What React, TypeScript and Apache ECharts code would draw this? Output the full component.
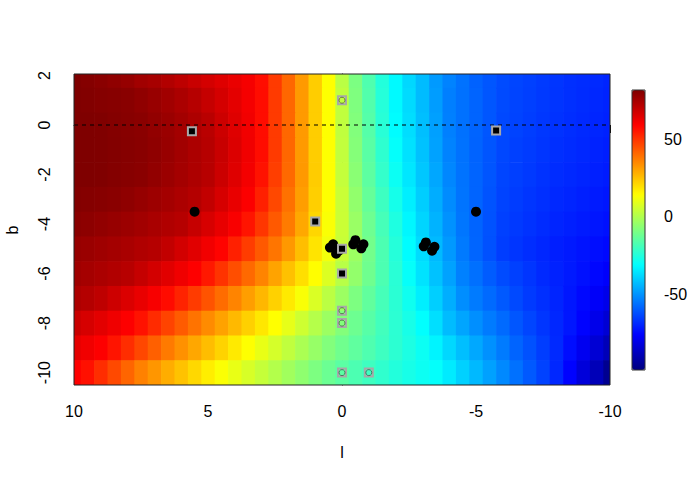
import React, { useEffect, useRef } from "react";
import * as echarts from "echarts";

// longitude columns (l) and latitude rows (b) of the colour field
const lGrid = [10, 9.5, 9, 8.5, 8, 7.5, 7, 6.5, 6, 5.5, 5, 4.5, 4, 3.5, 3, 2.5, 2, 1.5, 1, 0.5, 0, -0.5, -1, -1.5, -2, -2.5, -3, -3.5, -4, -4.5, -5, -5.5, -6, -6.5, -7, -7.5, -8, -8.5, -9, -9.5, -10];
const bRows = [2, 1, 0, -1, -2, -3, -4, -5, -6, -7, -8, -9, -10];

// field values, one array per row of b
const rowB2 = [82, 81, 80, 79, 78, 76, 75, 73, 71, 69, 67, 65, 63, 61, 57, 49, 41, 32, 23, 14, 2, -9, -17, -25, -32, -38, -43, -49, -53, -56, -59, -61, -63, -64, -65, -66, -67, -68, -68.5, -69, -70];
const rowB1 = [82, 81.5, 81, 80.6, 80.2, 79, 77.5, 76, 74.2, 72.3, 69.7, 66.9, 64.1, 61.2, 57.3, 49, 41, 32, 23, 14, 3, -8.5, -16.5, -24.6, -32, -37.5, -43, -48.4, -53.8, -56.3, -58.6, -61, -63.2, -64.2, -65.2, -66.2, -67.2, -68, -68.7, -69.5, -70.2];
const rowB0 = [82, 82, 81.8, 81.2, 80.6, 80.1, 78.7, 77.2, 75.6, 73.8, 71.8, 68.4, 65.1, 61.7, 57.3, 49, 41, 32, 23, 14, 3, -8, -16, -24, -31.5, -37, -42.5, -48, -53.5, -56.2, -58.6, -61.1, -63.5, -64.5, -65.5, -66.5, -67.5, -68.3, -69, -69.8, -70.5];
const rowBm1 = [82, 82, 81.9, 81.3, 80.8, 80.2, 79.1, 77.5, 75.8, 74.1, 72.3, 69.1, 65.5, 61.9, 57.3, 49, 41, 32, 23, 14, 3.3, -7.4, -15.3, -22.9, -30.5, -36.3, -41.9, -47.5, -53.1, -56.1, -58.7, -61.2, -63.8, -64.9, -65.9, -67, -68, -68.8, -69.5, -70.3, -71];
const rowBm2 = [82, 82, 81.8, 81.2, 80.6, 80.1, 78.6, 77, 75.4, 73.8, 72.1, 68.6, 65, 61.3, 56.2, 48.4, 40.6, 32.1, 23.1, 14, 3.7, -6.6, -14.5, -21.9, -29.2, -35.3, -41, -46.6, -52.3, -55.9, -58.6, -61.3, -64, -65.1, -66.3, -67.4, -68.5, -69.3, -70, -70.8, -71.5];
const rowBm3 = [81.5, 81, 80.6, 80.1, 79.1, 77.9, 76.7, 75.5, 74.1, 72.6, 70.1, 66.7, 63.3, 59.9, 53.7, 46.5, 39.3, 31.2, 22.6, 14, 4.5, -5.1, -13.1, -20.2, -27.4, -33.9, -39.8, -45.6, -51.4, -55.7, -58.6, -61.6, -64.5, -65.7, -66.9, -68, -69.2, -70, -70.9, -71.7, -72.5];
const rowBm4 = [80.2, 79.5, 78.6, 77.7, 76.8, 75.8, 74.6, 73.4, 72.2, 69.5, 66.5, 63.5, 60.5, 55.9, 49.8, 43.6, 37.5, 29.5, 21.3, 13.2, 4.7, -3.8, -11.6, -18.7, -25.8, -32.5, -38.5, -44.5, -50.4, -55.3, -58.5, -61.8, -65, -66.3, -67.5, -68.8, -70, -70.9, -71.8, -72.6, -73.5];
const rowBm5 = [78, 77.2, 76.4, 75.5, 74.5, 73.4, 72.4, 70.2, 67.4, 64.6, 61.7, 58.8, 53.7, 48.7, 43.6, 38.5, 32.3, 25.6, 18.9, 12, 4.4, -3.3, -10.7, -17.6, -24.5, -31.4, -37.3, -43.3, -49.2, -54.7, -58.3, -61.9, -65.5, -66.9, -68.3, -69.6, -71, -72, -73, -74, -75];
const rowBm6 = [76.3, 75.2, 74.2, 73.1, 72.1, 69.7, 67.1, 64.6, 62, 59.5, 55.1, 50.3, 45.5, 40.7, 35.8, 30.4, 25.1, 19.7, 14.3, 8, 1.5, -4.9, -11.3, -17.6, -23.9, -30.2, -36.1, -41.9, -47.6, -53.4, -56.5, -60, -63, -65, -67, -69, -70.5, -72, -73.5, -75.3, -77];
const rowBm7 = [74, 72.7, 70.8, 68.3, 65.7, 63.2, 60.6, 57.4, 53.1, 48.8, 44.5, 40.2, 35.8, 31.3, 26.8, 22.3, 17.8, 13.1, 7.6, 2.1, -3.4, -8.9, -13.8, -18.7, -23.6, -28.5, -33.9, -39.6, -45.4, -51.1, -54.5, -57.5, -60.5, -63.3, -66, -68, -70, -72.5, -75, -77.5, -80];
const rowBm8 = [69, 66.7, 64.4, 62.1, 59.8, 56.2, 51.8, 47.5, 43.2, 38.9, 34.7, 30.6, 26.5, 22.4, 18.3, 14.2, 9.9, 5.4, 1, -3.4, -7.8, -11.7, -15.6, -19.4, -23.3, -27.1, -30.9, -36.7, -43, -47, -51, -54.5, -57.5, -61, -64, -67, -69.5, -72.5, -76, -80, -84];
const rowBm9 = [64, 61.8, 59.7, 55.8, 51.3, 46.7, 42.2, 37.6, 33.6, 29.7, 25.8, 21.9, 17.9, 14, 10.3, 6.7, 3, -0.7, -4.3, -8, -11.1, -14.1, -17.1, -20.1, -23.2, -26.2, -29.2, -33, -38, -42.5, -46.5, -50.5, -54.5, -58.5, -62, -65.5, -69, -74, -79, -84, -89];
const rowBm10 = [59.5, 56.5, 51.4, 46.4, 41.3, 36.4, 32.6, 28.7, 24.9, 21.1, 17.2, 13.5, 10.3, 7.1, 3.9, 0.7, -2.5, -5.7, -8.9, -12, -15, -17.5, -20, -22.5, -25, -27, -29, -30.5, -34.6, -39.2, -43.5, -47.8, -52, -56.3, -60.5, -64.7, -69.5, -76, -83, -89, -96];
const fieldRows = [rowB2, rowB1, rowB0, rowBm1, rowBm2, rowBm3, rowBm4, rowBm5, rowBm6, rowBm7, rowBm8, rowBm9, rowBm10];

// markers [l, b]
const filledSquares = [[5.6, -0.25], [-5.75, -0.22], [1.0, -3.9], [0, -5.0], [0, -6.0]];
const openSquares = [[0, 1.0], [0, -7.5], [0, -8.0], [0, -10.0], [-1.0, -10.0]];
const blackDots = [
  [5.5, -3.5], [-5.0, -3.5],
  [0.22, -5.2], [0.1, -5.06], [0.45, -4.95], [0.33, -4.82],
  [-0.72, -4.98], [-0.8, -4.82], [-0.42, -4.82], [-0.5, -4.65],
  [-3.36, -5.08], [-3.45, -4.92], [-3.05, -4.9], [-3.13, -4.74],
];
const zeroLine = [[10, 0], [-10, 0]];

// axes
const xTickStep = 5;
const yTicks = [-10, -8, -6, -4, -2, 0, 2];
const keyTicks = [-50, 0, 50];
const zMin = -99;
const zMax = 82;
const jet = ["#00007F", "#0000FF", "#007FFF", "#00FFFF", "#7FFF7F", "#FFFF00", "#FF7F00", "#FF0000", "#7F0000"];

const FONT = "'Liberation Sans', Arial, Helvetica, sans-serif";

export default function App() {
  const ref = useRef<HTMLDivElement>(null);

  useEffect(() => {
    if (!ref.current) return;
    const chart = echarts.init(ref.current, undefined, { renderer: "svg" });

    const fieldData: number[][] = [];
    bRows.forEach((b, i) => {
      lGrid.forEach((l, j) => {
        fieldData.push([l, b, fieldRows[i][j]]);
      });
    });

    const option: any = {
      animation: false,
      backgroundColor: "#fff",
      textStyle: { fontFamily: FONT },
      grid: [
        { left: 74, top: 74, width: 536, height: 311 },
        { left: 632, top: 90, width: 13, height: 280 },
      ],
      xAxis: [
        {
          type: "value",
          gridIndex: 0,
          min: -10,
          max: 10,
          inverse: true,
          interval: xTickStep,
          axisLine: { show: true, lineStyle: { color: "#000", width: 1 } },
          axisTick: { show: true, length: 8, lineStyle: { color: "#000" } },
          axisLabel: { fontSize: 16, color: "#000", fontFamily: FONT, margin: 18, showMinLabel: true, showMaxLabel: true },
          splitLine: { show: false },
        },
        { type: "value", gridIndex: 1, min: 0, max: 1, show: false },
      ],
      yAxis: [
        {
          type: "value",
          gridIndex: 0,
          min: -10.5,
          max: 2.06,
          axisLine: { show: true, lineStyle: { color: "#000", width: 1 } },
          axisTick: { show: true, length: 8, customValues: yTicks, lineStyle: { color: "#000" } },
          axisLabel: { fontSize: 16, color: "#000", fontFamily: FONT, rotate: 90, margin: 22, customValues: yTicks },
          splitLine: { show: false },
        },
        {
          type: "value",
          gridIndex: 1,
          min: zMin,
          max: zMax,
          position: "right",
          axisLine: { show: false },
          axisTick: { show: true, length: 8, customValues: keyTicks, lineStyle: { color: "#333" } },
          axisLabel: { fontSize: 16, color: "#000", fontFamily: FONT, margin: 19, customValues: keyTicks },
          splitLine: { show: false },
        },
      ],
      visualMap: {
        type: "continuous",
        min: zMin,
        max: zMax,
        seriesIndex: 0,
        dimension: 2,
        calculable: false,
        hoverLink: false,
        orient: "vertical",
        left: 632,
        top: 90,
        itemWidth: 13,
        itemHeight: 280,
        padding: 0,
        inRange: { color: jet },
      },
      series: [
        {
          type: "custom",
          xAxisIndex: 0,
          yAxisIndex: 0,
          silent: true,
          dimensions: ["l", "b", "v"],
          encode: { x: "l", y: "b" },
          data: fieldData,
          z: 1,
          renderItem: (params: any, api: any) => {
            const l = api.value(0);
            const b = api.value(1);
            const p1 = api.coord([l + 0.25, b + 0.5]);
            const p2 = api.coord([l - 0.25, b - 0.5]);
            const x0 = Math.min(p1[0], p2[0]);
            const x1 = Math.max(p1[0], p2[0]);
            const y0 = Math.min(p1[1], p2[1]);
            const y1 = Math.max(p1[1], p2[1]);
            const cs = params.coordSys;
            const shape = echarts.graphic.clipRectByRect(
              { x: x0, y: y0, width: x1 - x0 + 0.7, height: y1 - y0 + 0.7 },
              { x: cs.x, y: cs.y, width: cs.width, height: cs.height }
            );
            if (!shape) return null;
            return { type: "rect", shape, style: { fill: api.visual("color"), stroke: null } };
          },
        },
        {
          type: "line",
          xAxisIndex: 0,
          yAxisIndex: 0,
          data: zeroLine,
          symbol: "none",
          silent: true,
          z: 3,
          lineStyle: { color: "#000", width: 1, type: [4, 4], cap: "butt" },
        },
        {
          type: "scatter",
          xAxisIndex: 0,
          yAxisIndex: 0,
          data: blackDots,
          symbol: "circle",
          symbolSize: 10,
          silent: true,
          z: 4,
          itemStyle: { color: "#000", opacity: 1 },
        },
        {
          type: "scatter",
          xAxisIndex: 0,
          yAxisIndex: 0,
          data: filledSquares,
          symbol: "rect",
          symbolSize: 8,
          silent: true,
          z: 5,
          itemStyle: { color: "#000", borderColor: "#a8a8a8", borderWidth: 2, opacity: 1 },
        },
        {
          type: "scatter",
          xAxisIndex: 0,
          yAxisIndex: 0,
          data: openSquares,
          symbol: "rect",
          symbolSize: 8,
          silent: true,
          z: 5,
          itemStyle: { color: "rgba(0,0,0,0)", borderColor: "#a8a8a8", borderWidth: 2, opacity: 1 },
        },
        {
          type: "scatter",
          xAxisIndex: 0,
          yAxisIndex: 0,
          data: openSquares,
          symbol: "circle",
          symbolSize: 6,
          silent: true,
          z: 6,
          itemStyle: { color: "rgba(0,0,0,0)", borderColor: "#333", borderWidth: 0.6, opacity: 1 },
        },
      ],
      graphic: [
        {
          type: "rect",
          z: 100,
          silent: true,
          shape: { x: 632, y: 90, width: 13, height: 280 },
          style: { fill: "none", stroke: "#333", lineWidth: 1 },
        },
        {
          type: "rect",
          z: 100,
          silent: true,
          shape: { x: 74, y: 74, width: 536, height: 311 },
          style: { fill: "none", stroke: "#222", lineWidth: 1 },
        },
        {
          type: "text",
          x: 342,
          y: 452,
          silent: true,
          style: { text: "l", fontSize: 16, fontFamily: FONT, fill: "#000", textAlign: "center", textVerticalAlign: "middle" },
        },
        {
          type: "text",
          x: 12,
          y: 230,
          rotation: Math.PI / 2,
          silent: true,
          style: { text: "b", fontSize: 16, fontFamily: FONT, fill: "#000", textAlign: "center", textVerticalAlign: "middle" },
        },
      ],
    };

    chart.setOption(option);
    return () => chart.dispose();
  }, []);

  return (
    <div
      ref={ref}
      style={{ position: "fixed", left: 0, top: 0, width: 700, height: 480, background: "#fff" }}
    />
  );
}
